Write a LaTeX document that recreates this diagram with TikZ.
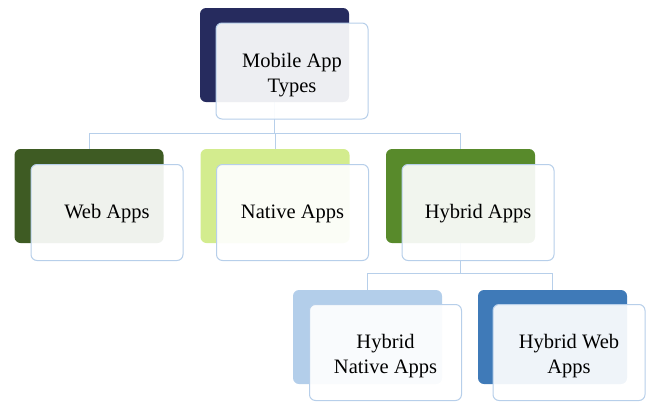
\documentclass[tikz,border=0pt]{standalone}
\usepackage{fontspec}
\setmainfont{Liberation Serif}
\usetikzlibrary{backgrounds}
\definecolor{edge}{HTML}{B7CFEA}
\definecolor{navy}{HTML}{262B5E}
\definecolor{darkgreen}{HTML}{3E5B23}
\definecolor{palegreen}{HTML}{D3EC8E}
\definecolor{midgreen}{HTML}{588A2B}
\definecolor{paleblue}{HTML}{B3CEEA}
\definecolor{midblue}{HTML}{3F7AB8}
\begin{document}
\begin{tikzpicture}[x=1pt,y=-1pt,
  back/.style={rounded corners=6pt, minimum width=149pt, minimum height=94pt, inner sep=0pt},
  front/.style={draw=edge, line width=1pt, fill=white, fill opacity=0.92, rounded corners=6pt,
    minimum width=152pt, minimum height=96pt, inner sep=0pt},
  lbl/.style={inner sep=0pt, align=center, font=\fontsize{20.5}{25}\selectfont},
  link/.style={draw=edge, line width=1pt}]
\useasboundingbox (0,0) rectangle (647,402);

% top level
\node[back, fill=navy] (topD) at (274.5,55) {};
\node[front] (top) at (292,71) {};
\node[lbl] (topT) at ([yshift=-4pt]top.center) {Mobile App\\Types};

% second level
\node[back, fill=darkgreen] (webD) at (89,196) {};
\node[front] (web) at (107,212.5) {};
\node[lbl] (webT) at ([yshift=-1.5pt]web.center) {Web Apps};
\node[back, fill=palegreen] (natD) at (275,196) {};
\node[front] (nat) at (292.5,212.5) {};
\node[lbl] (natT) at ([yshift=-1.5pt]nat.center) {Native Apps};
\node[back, fill=midgreen] (hybD) at (460.5,196) {};
\node[front] (hyb) at (478,212.5) {};
\node[lbl] (hybT) at ([yshift=-1.5pt]hyb.center) {Hybrid Apps};

% third level
\node[back, fill=paleblue] (hnD) at (367.5,337) {};
\node[front] (hn) at (385.5,352.5) {};
\node[lbl] (hnT) at ([yshift=-3.5pt]hn.center) {Hybrid\\Native Apps};
\node[back, fill=midblue] (hwD) at (552.5,337) {};
\node[front] (hw) at (569,352.5) {};
\node[lbl] (hwT) at ([yshift=-3.5pt]hw.center) {Hybrid Web\\Apps};

% connectors
\begin{pgfonlayer}{background}
\draw[link] (topD.south) -- ++(0,31) coordinate (j1);
\draw[link] (webD.north) |- (j1) -| (hybD.north);
\draw[link] (natD.north) -- (natD.north |- j1);
\draw[link] (hybD.south) -- ++(0,30) coordinate (j2);
\draw[link] (hnD.north) |- (j2) -| (hwD.north);
\end{pgfonlayer}
\end{tikzpicture}
\end{document}
